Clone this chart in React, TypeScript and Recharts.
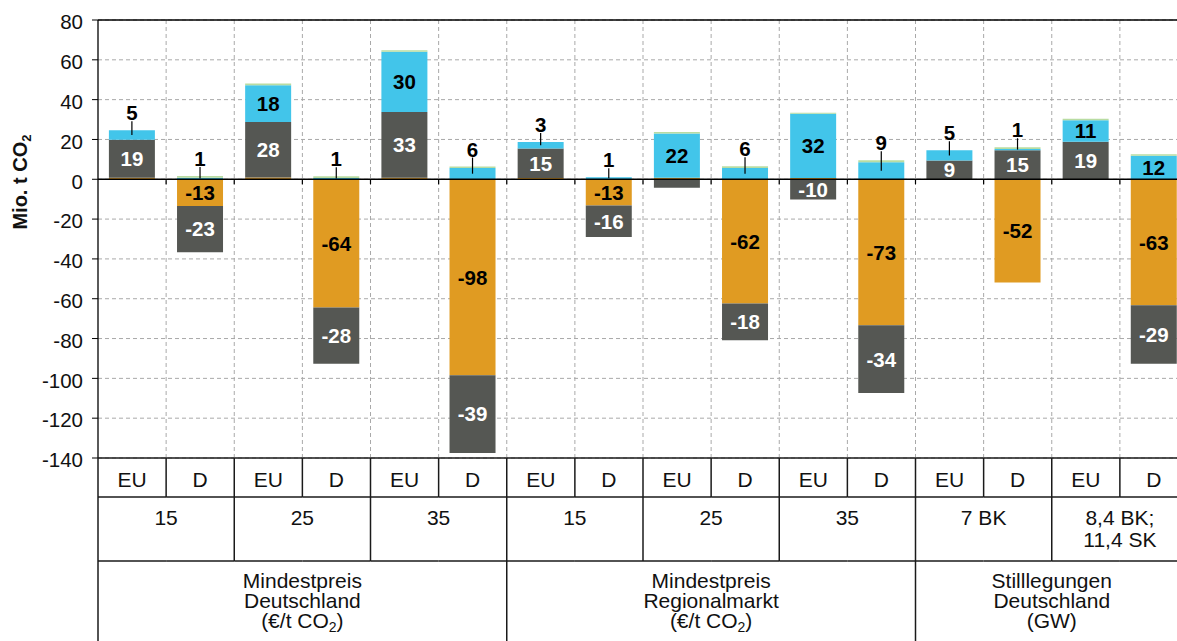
import React from 'react';
import { BarChart, Bar, XAxis, YAxis, CartesianGrid, ReferenceLine, LabelList } from 'recharts';

// x categories and the two grouping rows below them
const categories = ['EU', 'D', 'EU', 'D', 'EU', 'D', 'EU', 'D', 'EU', 'D', 'EU', 'D', 'EU', 'D', 'EU', 'D'];
const priceLevels = [['15'], ['25'], ['35'], ['15'], ['25'], ['35'], ['7 BK'], ['8,4 BK;', '11,4 SK']];
const scenarios = [
  ['Mindestpreis', 'Deutschland', '(€/t CO2)'],
  ['Mindestpreis', 'Regionalmarkt', '(€/t CO2)'],
  ['Stilllegungen', 'Deutschland', '(GW)'],
];
const scenarioSpans = [6, 6, 4];
const yTicks = [80, 60, 40, 20, 0, -20, -40, -60, -80, -100, -120, -140];

// Mio. t CO2 per fuel
const hardCoal = [0.8, -13.4, 0.9, -64.4, 0.8, -98.4, 0.7, -13.2, 0.8, -62.4, 0.6, -73.3, 0, -51.9, 0, -63.3];
const lignite = [19.0, -23.2, 27.9, -28.2, 33.0, -39.1, 14.8, -15.8, -4.2, -18.4, -10.2, -34.1, 9.4, 14.6, 18.8, -29.3];
const gas = [4.8, 0.8, 18.4, 0.7, 30.2, 5.6, 3.2, 1.0, 22.2, 5.6, 32.3, 8.6, 5.2, 0.6, 10.8, 11.8];
const other = [0, 0.8, 0.9, 0.8, 0.8, 0.8, 0, 0, 0.8, 0.9, 0.5, 0.9, 0, 0.9, 0.8, 0.8];

const data = categories.map((c, i) => ({
  name: i,
  cat: c,
  hardCoal: hardCoal[i],
  lignite: lignite[i],
  gas: gas[i],
  other: other[i],
}));

const CHART_W = 1200;
const CHART_H = 660;
const MARGIN = { top: 20, right: 12, left: 0, bottom: 2 };
const Y_W = 98;
const X_H = 200;
const PLOT_W = CHART_W - MARGIN.left - MARGIN.right - Y_W;
const PLOT_H = CHART_H - MARGIN.top - MARGIN.bottom - X_H;
const BAND = PLOT_W / categories.length;
const TABLE_TOP = MARGIN.top + PLOT_H;
const FONT = 'Liberation Sans, Arial, sans-serif';
const LINE = '#1a1a1a';
const TABLE_FS = 21;

function withSub(s: string) {
  const parts = s.split('CO2');
  if (parts.length === 1) return s;
  return (
    <>
      {parts[0]}CO
      <tspan fontSize={14} dy={4}>2</tspan>
      <tspan dy={-4}>{parts[1]}</tspan>
    </>
  );
}

function TableTick(props: any) {
  const { x, index } = props;
  const left = x - BAND / 2;
  const right = x + BAND / 2;
  const t = TABLE_TOP;
  const r1 = t + 39;
  const r2 = t + 103;
  const bottom = t + X_H;
  const out: React.ReactNode[] = [];
  // horizontal rules
  [t, r1, r2].forEach((yy, k) => out.push(<line key={'h' + k} x1={left} x2={right} y1={yy} y2={yy} stroke={LINE} strokeWidth={1.5} />));
  // row 1
  out.push(<line key="v1" x1={left} x2={left} y1={t} y2={r1} stroke={LINE} strokeWidth={1.5} />);
  out.push(
    <text key="t1" x={x} y={t + 29} textAnchor="middle" fontSize={TABLE_FS} fill="#111">
      {categories[index]}
    </text>
  );
  // row 2
  if (index % 2 === 0) {
    const g = index / 2;
    out.push(<line key="v2" x1={left} x2={left} y1={r1} y2={r2} stroke={LINE} strokeWidth={1.5} />);
    priceLevels[g].forEach((s, k) =>
      out.push(
        <text key={'t2' + k} x={left + BAND} y={t + 67 + k * 22} textAnchor="middle" fontSize={TABLE_FS} fill="#111">
          {s}
        </text>
      )
    );
  }
  // row 3
  let start = 0;
  scenarioSpans.forEach((span, g) => {
    if (index === start) {
      out.push(<line key="v3" x1={left} x2={left} y1={r2} y2={bottom} stroke={LINE} strokeWidth={1.5} />);
      scenarios[g].forEach((s, k) =>
        out.push(
          <text key={'t3' + k} x={left + (span * BAND) / 2} y={t + 130 + k * 20} textAnchor="middle" fontSize={TABLE_FS} fill="#111">
            {withSub(s)}
          </text>
        )
      );
    }
    start += span;
  });
  return <g>{out}</g>;
}

function YTick(props: any) {
  const { x, y, payload } = props;
  return (
    <text x={x} y={y + 2} dy="0.355em" textAnchor="end" fontSize={20.5} fill="#111">
      {payload.value}
    </text>
  );
}

function YTitle(props: any) {
  const vb = props.viewBox || { x: 0, y: MARGIN.top, height: PLOT_H };
  const x = vb.x + 27;
  const y = vb.y + vb.height * 0.37;
  return (
    <text x={x} y={y} transform={`rotate(-90 ${x} ${y})`} textAnchor="middle" fontSize={20} fontWeight="bold" fill="#111">
      Mio. t CO<tspan fontSize={13} dy={4}>2</tspan>
    </text>
  );
}

const segValue = (p: any) => {
  const v = p.value;
  if (Array.isArray(v)) return Number(v[1]) - Number(v[0]);
  return Number(v);
};

const insideLabel = (color: string) => (p: any) => {
  const vb = p.viewBox || p;
  const v = segValue(p);
  if (!isFinite(v) || Math.abs(v) < 5) return null;
  return (
    <text
      x={vb.x + vb.width / 2}
      y={vb.y + vb.height / 2}
      dy="0.36em"
      textAnchor="middle"
      fontSize={20.5}
      fontWeight="bold"
      fill={color}
    >
      {Math.round(v)}
    </text>
  );
};

const gasLabel = (p: any) => {
  const vb = p.viewBox || p;
  const i = p.index;
  const v = segValue(p);
  const top = Math.min(vb.y, vb.y + vb.height);
  const h = Math.abs(vb.height);
  const cx = vb.x + vb.width / 2;
  if (v >= 10) {
    return (
      <text x={cx} y={top + h / 2} dy="0.36em" textAnchor="middle" fontSize={20.5} fontWeight="bold" fill="#000">
        {Math.round(v)}
      </text>
    );
  }
  const greenPx = v > 0 ? ((other[i] || 0) * h) / v : 0;
  const base = top - greenPx - 10;
  return (
    <g>
      <line x1={cx} x2={cx} y1={base + 1} y2={top + h / 2} stroke="#000" strokeWidth={1.2} />
      <text x={cx} y={base} textAnchor="middle" fontSize={20.5} fontWeight="bold" fill="#000">
        {Math.round(v)}
      </text>
    </g>
  );
};

const zeroLine = (p: any) => {
  const n = categories.length;
  const step = (p.x2 - p.x1) / n;
  return (
    <g>
      <line x1={p.x1} x2={p.x2} y1={p.y1} y2={p.y2} stroke="#000" strokeWidth={1.5} />
      {categories.map((_, i) => (
        <line key={i} x1={p.x1 + (i + 1) * step} x2={p.x1 + (i + 1) * step} y1={p.y1} y2={p.y1 + 5} stroke="#000" strokeWidth={1.2} />
      ))}
    </g>
  );
};

export default function App() {
  return (
    <div style={{ position: 'absolute', left: 0, top: 0, width: 1177, height: 641, overflow: 'hidden', background: '#fff' }}>
      <BarChart
        width={CHART_W}
        height={CHART_H}
        data={data}
        margin={MARGIN}
        stackOffset="sign"
        barCategoryGap="16%"
        style={{ fontFamily: FONT }}
      >
        <CartesianGrid
          stroke="#a9a9a9"
          strokeDasharray="4 3"
          verticalCoordinatesGenerator={(args: any) => {
            const o = args.offset || { left: Y_W, width: PLOT_W };
            return categories.map((_, i) => o.left + ((i + 1) * o.width) / categories.length);
          }}
        />
        <XAxis
          dataKey="name"
          height={X_H}
          interval={0}
          axisLine={false}
          tickLine={false}
          tickSize={0}
          tick={(p: any) => <TableTick {...p} />}
        />
        <YAxis
          domain={[-140, 80]}
          ticks={yTicks}
          interval={0}
          width={Y_W}
          allowDataOverflow
          axisLine={{ stroke: '#000', strokeWidth: 1.3 }}
          tickLine={{ stroke: '#000' }}
          tickSize={6}
          tickMargin={9}
          tick={(p: any) => <YTick {...p} />}
          label={<YTitle />}
        />
        <Bar dataKey="hardCoal" stackId="a" fill="#E09B22" isAnimationActive={false}>
          <LabelList dataKey="hardCoal" content={insideLabel('#000')} />
        </Bar>
        <Bar dataKey="lignite" stackId="a" fill="#555753" isAnimationActive={false}>
          <LabelList dataKey="lignite" content={insideLabel('#fff')} />
        </Bar>
        <Bar dataKey="gas" stackId="a" fill="#42C5EA" isAnimationActive={false}>
          <LabelList dataKey="gas" content={gasLabel} />
        </Bar>
        <Bar dataKey="other" stackId="a" fill="#B9DCA2" isAnimationActive={false} />
        <ReferenceLine y={80} stroke="#000" strokeWidth={1.5} />
        <ReferenceLine y={0} shape={zeroLine} />
      </BarChart>
    </div>
  );
}
